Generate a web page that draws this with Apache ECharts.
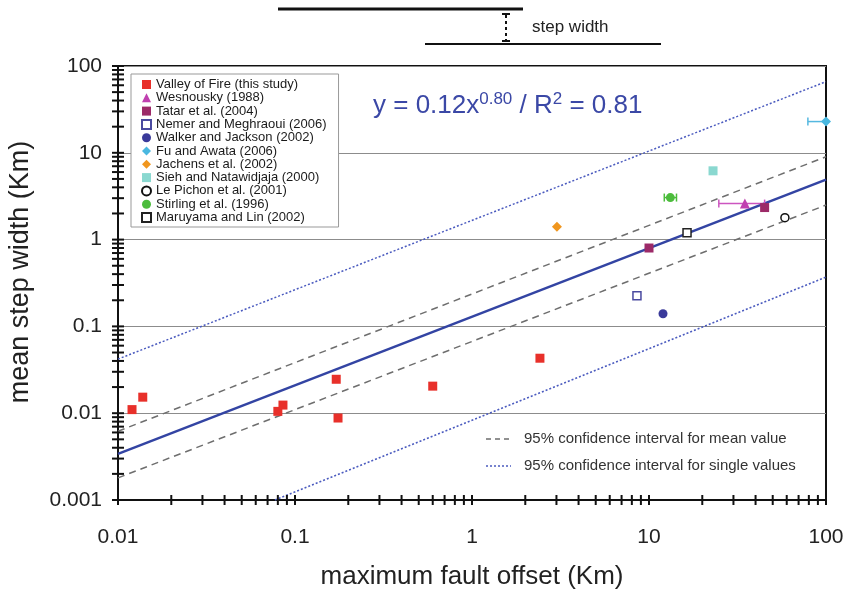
<!DOCTYPE html>
<html>
<head>
<meta charset="utf-8">
<script src="https://cdn.jsdelivr.net/npm/echarts@6/dist/echarts.min.js"></script>
<style>
html, body { margin: 0; padding: 0; background: #fff; }
#chart { width: 845px; height: 589px; }
</style>
</head>
<body>
<div id="chart"></div>
<script>
// points: [max fault offset km, mean step width km]
const valleyOfFire = [[0.012, 0.011], [0.0138, 0.0153], [0.080, 0.0105], [0.0855, 0.0124], [0.171, 0.0246], [0.175, 0.0088], [0.60, 0.0205], [2.42, 0.043]]
const wesnousky = [[34.8, 2.6]]
const tatar = [[10, 0.8], [45, 2.34]]
const nemer = [[8.55, 0.226]]
const walker = [[12, 0.14]]
const fuAwata = [[100, 22.9]]
const jachens = [[3.02, 1.41]]
const sieh = [[23, 6.2]]
const lePichon = [[58.6, 1.79]]
const stirling = [[13.2, 3.05]]
const maruyama = [[16.4, 1.2]]

// horizontal error bars: [xLow, xHigh, y]
const wesnouskyErr = [[24.8, 45, 2.6]]
const fuAwataErr = [[79, 100, 22.9]]
const stirlingErr = [[12.2, 14.3, 3.05]]

// fit and confidence lines, end points
const fitLine = [[0.01, 0.0034], [100, 4.9]]
const meanUpper = [[0.01, 0.0062], [100, 9.0]]
const meanLower = [[0.01, 0.0018], [100, 2.5]]
const singleUpper = [[0.01, 0.042], [100, 66]]
const singleLower = [[0.077, 0.001], [100, 0.37]]

const xTicks = [0.01, 0.1, 1, 10, 100]
const yTicks = [0.001, 0.01, 0.1, 1, 10, 100]

const FONT = "'Liberation Sans', Arial, sans-serif"

// major + minor tick positions (1..9 per decade)
function logTicks(majors) {
  const out = []
  for (let i = 0; i < majors.length - 1; i++) {
    for (let k = 1; k <= 9; k++) out.push(majors[i] * k)
  }
  out.push(majors[majors.length - 1])
  return out
}

function tickSeries(values, dir) {
  return {
    type: "custom",
    silent: true,
    clip: false,
    z: 10,
    data: values.map(v => dir === "x" ? [v, yTicks[0]] : [xTicks[0], v]),
    renderItem: (params, api) => {
      const p = api.coord([api.value(0), api.value(1)])
      const shape = dir === "x"
        ? {x1: p[0], y1: p[1] - 5, x2: p[0], y2: p[1] + 5}
        : {x1: p[0] - 6, y1: p[1], x2: p[0] + 6, y2: p[1]}
      return {type: "line", shape, style: {stroke: "#111", lineWidth: 2}}
    },
  }
}

function errSeries(name, data, color) {
  return {
    type: "custom",
    name,
    data,
    silent: true,
    clip: false,
    z: 3,
    encode: {x: [0, 1], y: 2},
    renderItem: (params, api) => {
      const a = api.coord([api.value(0), api.value(2)])
      const b = api.coord([api.value(1), api.value(2)])
      const st = {stroke: color, lineWidth: 1.5}
      return {
        type: "group",
        children: [
          {type: "line", shape: {x1: a[0], y1: a[1], x2: b[0], y2: b[1]}, style: st},
          {type: "line", shape: {x1: a[0], y1: a[1] - 4, x2: a[0], y2: a[1] + 4}, style: st},
          {type: "line", shape: {x1: b[0], y1: b[1] - 4, x2: b[0], y2: b[1] + 4}, style: st},
        ],
      }
    },
  }
}

function scatter(name, data, symbol, color, size, open) {
  return {
    type: "scatter",
    name,
    data,
    symbol,
    symbolSize: size,
    z: 5,
    itemStyle: open
      ? {color: "#fff", borderColor: color, borderWidth: 1.5, opacity: 1}
      : {color, opacity: 1},
  }
}

function line(data, color, width, type) {
  return {
    type: "line",
    data,
    showSymbol: false,
    silent: true,
    z: 2,
    lineStyle: {color, width, type},
  }
}

const fmt = v => String(parseFloat(Number(v).toPrecision(6)))

const legendNames = [
  "Valley of Fire (this study)",
  "Wesnousky (1988)",
  "Tatar et al. (2004)",
  "Nemer and Meghraoui (2006)",
  "Walker and Jackson (2002)",
  "Fu and Awata (2006)",
  "Jachens et al. (2002)",
  "Sieh and Natawidjaja (2000)",
  "Le Pichon et al. (2001)",
  "Stirling et al. (1996)",
  "Maruyama and Lin (2002)",
]

const option = {
  backgroundColor: "#fff",
  animation: false,
  grid: {
    left: 118, top: 66, width: 708, height: 434,
    show: true, borderColor: "#111", borderWidth: 2,
    outerBoundsMode: "none",
  },
  xAxis: {
    type: "log",
    logBase: 10,
    min: xTicks[0],
    max: xTicks[xTicks.length - 1],
    axisLine: {lineStyle: {color: "#111", width: 2}},
    axisTick: {show: false},
    splitLine: {show: false},
    axisLabel: {color: "#222", fontSize: 21, fontFamily: FONT, margin: 27, formatter: fmt},
  },
  yAxis: {
    type: "log",
    logBase: 10,
    min: yTicks[0],
    max: yTicks[yTicks.length - 1],
    axisLine: {lineStyle: {color: "#111", width: 2}},
    axisTick: {show: false},
    splitLine: {show: true, lineStyle: {color: "#8c8c8c", width: 1}},
    axisLabel: {color: "#222", fontSize: 21, fontFamily: FONT, margin: 16, formatter: fmt},
  },
  legend: {
    data: legendNames,
    orient: "vertical",
    left: 131,
    top: 74,
    padding: [4, 12, 3, 10],
    itemWidth: 9,
    itemHeight: 9,
    itemGap: 0.3,
    backgroundColor: "#fff",
    borderColor: "#999",
    borderWidth: 1,
    borderRadius: 0,
    selectedMode: false,
    textStyle: {fontSize: 13, lineHeight: 11, color: "#1a1a1a", fontFamily: FONT},
  },
  graphic: [
    // step width sketch above the plot
    {type: "line", shape: {x1: 278, y1: 9, x2: 523, y2: 9}, style: {stroke: "#111", lineWidth: 3}},
    {type: "line", shape: {x1: 425, y1: 44, x2: 661, y2: 44}, style: {stroke: "#111", lineWidth: 2}},
    {type: "line", shape: {x1: 506, y1: 15, x2: 506, y2: 41}, style: {stroke: "#111", lineWidth: 2, lineDash: [3, 3]}},
    {type: "line", shape: {x1: 502, y1: 14, x2: 510, y2: 14}, style: {stroke: "#111", lineWidth: 2}},
    {type: "line", shape: {x1: 502, y1: 41, x2: 510, y2: 41}, style: {stroke: "#111", lineWidth: 2}},
    {type: "text", x: 532, y: 27, style: {text: "step width", font: "17px " + FONT, fill: "#222", align: "left", verticalAlign: "middle"}},
    // equation
    {
      type: "text", x: 373, y: 106,
      style: {
        text: "{m|y = 0.12x}{s|0.80}{m| / R}{s|2}{m| = 0.81}",
        fill: "#3b48a6",
        align: "left",
        verticalAlign: "middle",
        rich: {
          m: {fontSize: 26, fontFamily: FONT, fill: "#3b48a6", lineHeight: 30},
          s: {fontSize: 17, fontFamily: FONT, fill: "#3b48a6", lineHeight: 30, verticalAlign: "top"},
        },
      },
    },
    // line key, bottom right
    {type: "line", shape: {x1: 486, y1: 439, x2: 511, y2: 439}, style: {stroke: "#6e6e6e", lineWidth: 1.5, lineDash: [5, 4]}},
    {type: "text", x: 524, y: 439, style: {text: "95% confidence interval for mean value", font: "15px " + FONT, fill: "#333", align: "left", verticalAlign: "middle"}},
    {type: "line", shape: {x1: 486, y1: 466, x2: 511, y2: 466}, style: {stroke: "#4b5bbf", lineWidth: 1.5, lineDash: [2, 2]}},
    {type: "text", x: 524, y: 466, style: {text: "95% confidence interval for single values", font: "15px " + FONT, fill: "#333", align: "left", verticalAlign: "middle"}},
    // axis titles
    {type: "text", x: 472, y: 577, style: {text: "maximum fault offset (Km)", font: "26px " + FONT, fill: "#222", align: "center", verticalAlign: "middle"}},
    {type: "text", x: 21, y: 272, rotation: Math.PI / 2, style: {text: "mean step width (Km)", font: "27px " + FONT, fill: "#222", align: "center", verticalAlign: "middle"}},
  ],
  series: [
    line(singleUpper, "#4b5bbf", 1.5, [2, 2]),
    line(singleLower, "#4b5bbf", 1.5, [2, 2]),
    line(meanUpper, "#6e6e6e", 1.5, [7, 5]),
    line(meanLower, "#6e6e6e", 1.5, [7, 5]),
    line(fitLine, "#3344a3", 2.5, "solid"),
    errSeries("Wesnousky err", wesnouskyErr, "#cc55c0"),
    errSeries("Fu err", fuAwataErr, "#55b8e0"),
    errSeries("Stirling err", stirlingErr, "#4cbc3c"),
    scatter(legendNames[0], valleyOfFire, "rect", "#e8302a", 9),
    scatter(legendNames[1], wesnousky, "triangle", "#c040b0", 10),
    scatter(legendNames[2], tatar, "rect", "#9c2a68", 9),
    scatter(legendNames[3], nemer, "rect", "#4a4aa0", 8, true),
    scatter(legendNames[4], walker, "circle", "#3a3a9a", 9),
    scatter(legendNames[5], fuAwata, "diamond", "#4ab8e0", 10),
    scatter(legendNames[6], jachens, "diamond", "#f0961e", 10),
    scatter(legendNames[7], sieh, "rect", "#8ad8d0", 9),
    scatter(legendNames[8], lePichon, "circle", "#111", 8, true),
    scatter(legendNames[9], stirling, "circle", "#4cbc3c", 9),
    scatter(legendNames[10], maruyama, "rect", "#222", 8, true),
    tickSeries(logTicks(xTicks), "x"),
    tickSeries(logTicks(yTicks), "y"),
  ],
}

const chart = echarts.init(document.getElementById("chart"))
chart.setOption(option)
</script>
</body>
</html>
